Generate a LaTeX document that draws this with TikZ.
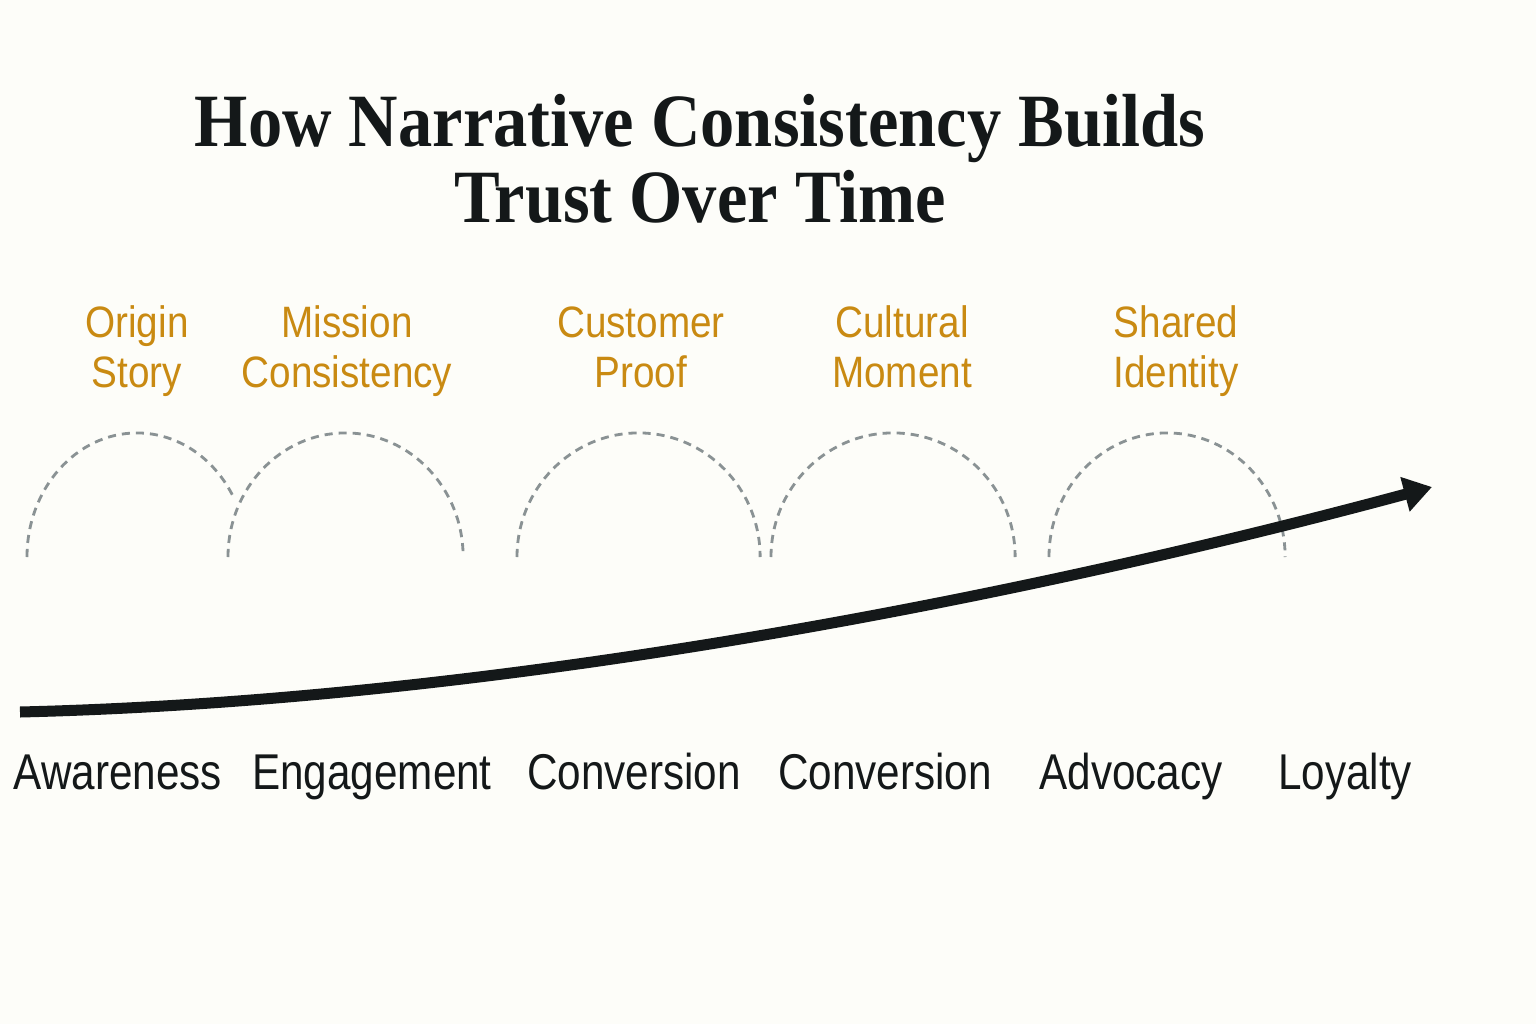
\documentclass[tikz,border=0pt]{standalone}
\usepackage{fontspec}
\setmainfont{Liberation Sans}
\newfontfamily\titlefont[FakeStretch=0.91]{Liberation Serif}
\newfontfamily\labfont[FakeStretch=0.84]{Liberation Sans}
\newfontfamily\stagefont[FakeStretch=0.88]{Liberation Sans}
\usetikzlibrary{arrows.meta}
\definecolor{bg}{HTML}{FDFDF9}
\definecolor{ink}{HTML}{141819}
\definecolor{gold}{HTML}{C98A12}
\definecolor{dashgray}{HTML}{8A9294}
\tikzset{
  titletext/.style={inner sep=0pt, align=center, text=ink, font=\titlefont\bfseries\fontsize{21.4}{21.4}\selectfont},
  stagetext/.style={inner sep=0pt, align=center, text=gold, font=\stagefont\fontsize{12.5}{14}\selectfont},
  labtext/.style={inner sep=0pt, anchor=base, text=ink, font=\labfont\fontsize{14.3}{16}\selectfont},
  bump/.style={draw=dashgray, line width=0.8pt, dash pattern=on 2.3pt off 1.7pt},
  trend/.style={draw=ink, line width=0.11cm, -{Triangle[length=0.28cm,width=0.34cm]}}
}
\begin{document}
\begin{tikzpicture}[x=0.01cm,y=-0.01cm]
\fill[bg] (0,0) rectangle (1536,1024);
\useasboundingbox (0,0) rectangle (1536,1024);

% title (base anchor = baseline of the last line)
\node[titletext, anchor=base] (title) at (700,222) {How Narrative Consistency Builds\\Trust Over Time};

% stage labels
\node[stagetext, anchor=base] (s1) at (137,387) {Origin\\Story};
\node[stagetext, anchor=base] (s2) at (347,387) {Mission\\Consistency};
\node[stagetext, anchor=base] (s3) at (641,387) {Customer\\Proof};
\node[stagetext, anchor=base] (s4) at (902,387) {Cultural\\Moment};
\node[stagetext, anchor=base west, align=left] (s5) at (1113,387) {Shared\\Identity};

% dashed arcs
\draw[bump] (27,557) arc[start angle=180, end angle=28, x radius=1.10cm, y radius=1.24cm];
\draw[bump] (228,557) arc[start angle=180, end angle=0, x radius=1.175cm, y radius=1.24cm];
\draw[bump] (517,557) arc[start angle=180, end angle=0, x radius=1.215cm, y radius=1.24cm];
\draw[bump] (771,557) arc[start angle=180, end angle=0, x radius=1.22cm, y radius=1.24cm];
\draw[bump] (1049,557) arc[start angle=180, end angle=0, x radius=1.18cm, y radius=1.24cm];

% trend arrow
\coordinate (start) at (20,712);
\coordinate (tip) at (1432,487);
\draw[trend] (start) .. controls (520,700) and (1050,590) .. (tip);

% bottom labels
\node[labtext] (l1) at (118,789) {Awareness};
\node[labtext] (l2) at (372,789) {Engagement};
\node[labtext] (l3) at (634,789) {Conversion};
\node[labtext] (l4) at (885,789) {Conversion};
\node[labtext] (l5) at (1131,789) {Advocacy};
\node[labtext] (l6) at (1345,789) {Loyalty};
\end{tikzpicture}
\end{document}
